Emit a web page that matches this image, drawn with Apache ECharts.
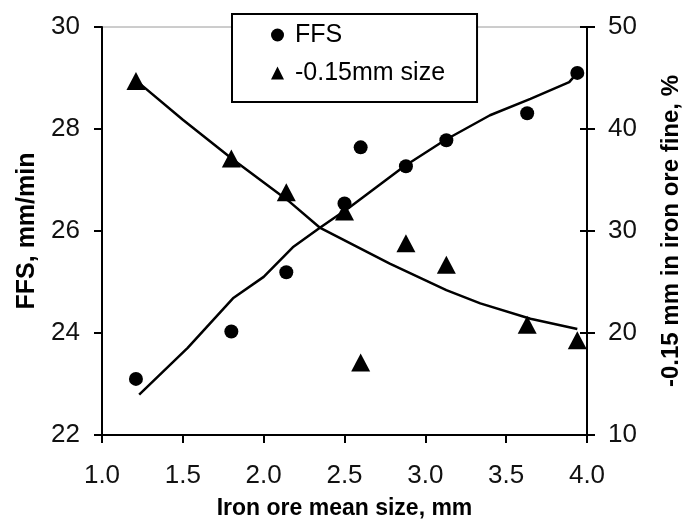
<!DOCTYPE html>
<html>
<head>
<meta charset="utf-8">
<style>
  html, body { margin: 0; padding: 0; background: #fff; }
  #chart { width: 684px; height: 524px; }
</style>
<script src="https://cdn.jsdelivr.net/npm/echarts@6/dist/echarts.min.js"></script>
</head>
<body>
<div id="chart"></div>
<script>
// Iron ore mean size (mm) for each sample
const meanSize = [1.21, 1.80, 2.14, 2.50, 2.60, 2.88, 3.13, 3.63, 3.94];
// Flame front speed, mm/min (left axis)
const ffs = [23.10, 24.03, 25.19, 26.54, 27.64, 27.27, 27.78, 28.31, 29.10];
// -0.15 mm fraction in the iron ore fines, % (right axis)
const fines = [44.7, 37.1, 33.8, 31.9, 17.1, 28.8, 26.7, 20.8, 19.3];

// Trend curve through the FFS values
const ffsTrendX = [1.23, 1.53, 1.81, 2.00, 2.18, 2.35, 2.53, 2.87, 3.12, 3.40, 3.65, 3.89, 3.94];
const ffsTrendY = [22.79, 23.71, 24.68, 25.10, 25.68, 26.07, 26.46, 27.27, 27.78, 28.27, 28.59, 28.92, 29.10];
// Trend curve through the -0.15 mm fraction values
const finesTrendX = [1.23, 1.50, 1.81, 2.15, 2.35, 2.78, 3.13, 3.34, 3.65, 3.94];
const finesTrendY = [44.5, 40.9, 37.0, 33.0, 30.3, 26.8, 24.2, 22.9, 21.4, 20.4];

// Axis tick settings
const xTicks = { min: 1.0, max: 4.0, step: 0.5 };
const ffsTicks = { min: 22, max: 30, step: 2 };
const finesTicks = { min: 10, max: 50, step: 10 };

const FONT = '"Liberation Sans", Arial, sans-serif';
const pairs = (xs, ys) => xs.map((x, i) => [x, ys[i]]);

const chart = echarts.init(document.getElementById('chart'), null, { renderer: 'canvas' });

const tickLabel = { color: '#111', fontSize: 26, fontFamily: FONT };
const titleStyle = { color: '#000', fontWeight: 'bold', fontFamily: FONT };

chart.setOption({
  animation: false,
  backgroundColor: '#fff',
  grid: {
    left: 102, right: 97, top: 27, bottom: 89,
    outerBoundsMode: 'none',
    containLabel: false,
    show: true, borderColor: '#9a9a9a', borderWidth: 1
  },
  legend: {
    left: 232, top: 14,
    orient: 'vertical',
    padding: [8, 32, 16, 39],
    itemGap: 12,
    itemWidth: 13, itemHeight: 13,
    backgroundColor: '#fff',
    borderColor: '#000', borderWidth: 2, borderRadius: 0,
    textStyle: { color: '#000', fontSize: 25, fontFamily: FONT, lineHeight: 26, padding: [0, 0, 0, 6] },
    data: [
      { name: 'FFS', icon: 'circle' },
      { name: '-0.15mm size', icon: 'triangle' }
    ]
  },
  xAxis: {
    type: 'value',
    min: xTicks.min, max: xTicks.max, interval: xTicks.step,
    name: 'Iron ore mean size, mm',
    nameLocation: 'middle',
    nameGap: 62,
    nameTextStyle: Object.assign({ fontSize: 23 }, titleStyle),
    axisLine: { lineStyle: { color: '#000', width: 2 } },
    axisTick: { inside: false, length: 8, lineStyle: { color: '#000', width: 2 } },
    axisLabel: Object.assign({ margin: 28, formatter: v => v.toFixed(1) }, tickLabel),
    splitLine: { show: false }
  },
  yAxis: [
    {
      type: 'value', position: 'left',
      min: ffsTicks.min, max: ffsTicks.max, interval: ffsTicks.step,
      name: 'FFS, mm/min',
      nameLocation: 'middle',
      nameRotate: 90,
      nameGap: 62,
      nameTextStyle: Object.assign({ fontSize: 25 }, titleStyle),
      axisLine: { show: true, lineStyle: { color: '#000', width: 2 } },
      axisTick: { show: true, inside: false, length: 8, lineStyle: { color: '#000', width: 2 } },
      axisLabel: Object.assign({ margin: 22 }, tickLabel),
      splitLine: { show: false }
    },
    {
      type: 'value', position: 'right',
      min: finesTicks.min, max: finesTicks.max, interval: finesTicks.step,
      name: '-0.15 mm in iron ore fine, %',
      nameLocation: 'middle',
      nameRotate: 90,
      nameGap: 72,
      nameTextStyle: Object.assign({ fontSize: 24 }, titleStyle),
      axisLine: { show: true, lineStyle: { color: '#000', width: 2 } },
      axisTick: { show: true, inside: false, length: 8, lineStyle: { color: '#000', width: 2 } },
      axisLabel: Object.assign({ margin: 21 }, tickLabel),
      splitLine: { show: false }
    },
    {
      // inner half of the right-hand ticks, so they cross the axis line
      type: 'value', position: 'right',
      min: finesTicks.min, max: finesTicks.max, interval: finesTicks.step,
      axisLine: { show: false },
      axisTick: { show: true, inside: true, length: 7, lineStyle: { color: '#000', width: 2 } },
      axisLabel: { show: false },
      splitLine: { show: false }
    }
  ],
  series: [
    {
      name: 'FFS trend', type: 'line', yAxisIndex: 0,
      data: pairs(ffsTrendX, ffsTrendY),
      smooth: false, showSymbol: false, silent: true,
      lineStyle: { color: '#000', width: 2.5 }, z: 2
    },
    {
      name: 'fines trend', type: 'line', yAxisIndex: 1,
      data: pairs(finesTrendX, finesTrendY),
      smooth: false, showSymbol: false, silent: true,
      lineStyle: { color: '#000', width: 2.5 }, z: 2
    },
    {
      name: 'FFS', type: 'scatter', yAxisIndex: 0,
      data: pairs(meanSize, ffs),
      symbol: 'circle', symbolSize: 14,
      itemStyle: { color: '#000', opacity: 1 }, z: 3
    },
    {
      name: '-0.15mm size', type: 'scatter', yAxisIndex: 1,
      data: pairs(meanSize, fines),
      symbol: 'triangle', symbolSize: [19, 18],
      itemStyle: { color: '#000', opacity: 1 }, z: 3
    }
  ]
});
</script>
</body>
</html>
